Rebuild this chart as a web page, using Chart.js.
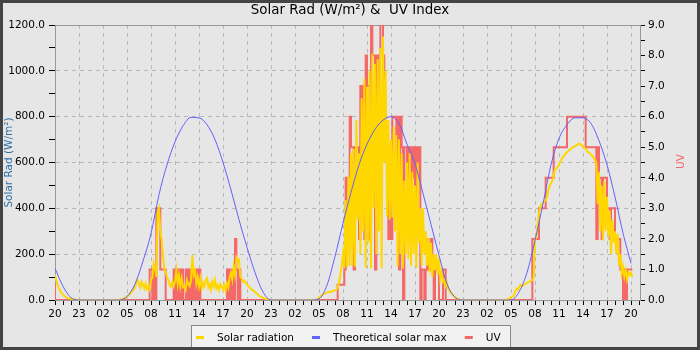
<!DOCTYPE html>
<html>
<head>
<meta charset="utf-8">
<title>Solar Rad &amp; UV Index</title>
<script src="https://cdn.jsdelivr.net/npm/chart.js@4.4.1/dist/chart.umd.min.js"></script>
<style>
  html, body { margin: 0; padding: 0; background: #e6e6e6; }
  #wrap { width: 700px; height: 350px; }
</style>
</head>
<body>
<div id="wrap"><canvas id="chart" width="700" height="350"></canvas></div>
<script>
// x axis: hours since 20:00 on the first day, labels every 3 hours
const hourLabels = ['20', '23', '02', '05', '08', '11', '14', '17',
                    '20', '23', '02', '05', '08', '11', '14', '17',
                    '20', '23', '02', '05', '08', '11', '14', '17', '20'];

// 10 minute samples, one row per hour (clock hour in the comment)
const solarRad = [
  110, 85, 65, 50, 38, 30,        // 20
  24, 18, 14, 10, 8, 6,           // 21
  5, 4, 3, 2, 1, 0,               // 22
  0, 0, 0, 0, 0, 0,               // 23
  0, 0, 0, 0, 0, 0,               // 00
  0, 0, 0, 0, 0, 0,               // 01
  0, 0, 0, 0, 0, 0,               // 02
  0, 0, 0, 0, 0, 0,               // 03
  0, 2, 4, 6, 8, 10,              // 04
  15, 20, 26, 32, 38, 44,         // 05
  58, 75, 87, 70, 55, 80,         // 06
  66, 50, 72, 48, 58, 45,         // 07
  90, 95, 160, 140, 100, 380,     // 08
  400, 300, 262, 190, 140, 120,   // 09
  100, 87, 65, 58, 80, 60,        // 10
  80, 130, 70, 109, 60, 95,       // 11
  55, 60, 44, 87, 70, 60,         // 12
  85, 196, 110, 130, 70, 100,     // 13
  60, 95, 50, 75, 60, 85,         // 14
  95, 55, 70, 45, 80, 60,         // 15
  87, 50, 65, 44, 70, 58,         // 16
  45, 65, 40, 73, 55, 100,        // 17
  120, 90, 145, 110, 185, 170,    // 18
  175, 100, 95, 80, 85, 73,       // 19
  70, 60, 55, 48, 44, 40,         // 20
  36, 30, 25, 20, 15, 12,         // 21
  10, 7, 5, 3, 2, 0,              // 22
  0, 0, 0, 0, 0, 0,               // 23
  0, 0, 0, 0, 0, 0,               // 00
  0, 0, 0, 0, 0, 0,               // 01
  0, 0, 0, 0, 0, 0,               // 02
  0, 0, 0, 0, 0, 0,               // 03
  0, 0, 0, 0, 2, 5,               // 04
  10, 15, 20, 25, 28, 30,         // 05
  32, 34, 35, 36, 38, 40,         // 06
  42, 45, 55, 73, 110, 150,       // 07
  200, 140, 436, 145, 540, 150,   // 08
  640, 150, 660, 145, 785, 350,   // 09
  640, 200, 880, 300, 967, 140,   // 10
  930, 250, 1000, 138, 1075, 400, // 11
  1030, 200, 1050, 300, 1100, 140,// 12
  1150, 600, 1000, 364, 785, 350, // 13
  700, 360, 755, 300, 720, 145,   // 14
  700, 200, 640, 138, 520, 200,   // 15
  600, 180, 640, 150, 560, 200,   // 16
  500, 140, 600, 250, 400, 150,   // 17
  400, 200, 300, 150, 270, 120,   // 18
  250, 100, 200, 130, 200, 110,   // 19
  180, 90, 120, 80, 90, 60,       // 20
  75, 50, 40, 30, 25, 18,         // 21
  12, 8, 5, 3, 1, 0,              // 22
  0, 0, 0, 0, 0, 0,               // 23
  0, 0, 0, 0, 0, 0,               // 00
  0, 0, 0, 0, 0, 0,               // 01
  0, 0, 0, 0, 0, 0,               // 02
  0, 0, 0, 0, 0, 0,               // 03
  0, 0, 0, 2, 5, 8,               // 04
  12, 15, 18, 35, 50, 45,         // 05
  55, 65, 60, 62, 68, 72,         // 06
  75, 78, 80, 84, 87, 100,        // 07
  260, 276, 330, 380, 407, 420,   // 08
  425, 430, 436, 450, 480, 500,   // 09
  510, 520, 540, 570, 575, 580,   // 10
  590, 605, 615, 625, 630, 640,   // 11
  645, 650, 655, 660, 665, 668,   // 12
  670, 675, 678, 684, 680, 675,   // 13
  670, 665, 660, 650, 645, 640,   // 14
  635, 630, 620, 610, 600, 420,   // 15
  560, 300, 500, 260, 520, 300,   // 16
  450, 280, 390, 200, 350, 250,   // 17
  300, 200, 290, 150, 200, 115,   // 18
  145, 100, 130, 90, 120, 110,    // 19
  120, 100                        // 20
];

const uvIndex = [
  0.5, 0, 0, 0, 0, 0,   // 20
  0, 0, 0, 0, 0, 0,     // 21
  0, 0, 0, 0, 0, 0,     // 22
  0, 0, 0, 0, 0, 0,     // 23
  0, 0, 0, 0, 0, 0,     // 00
  0, 0, 0, 0, 0, 0,     // 01
  0, 0, 0, 0, 0, 0,     // 02
  0, 0, 0, 0, 0, 0,     // 03
  0, 0, 0, 0, 0, 0,     // 04
  0, 0, 0, 0, 0, 0,     // 05
  0, 0, 0, 0, 0, 0,     // 06
  0, 0, 0, 0, 0, 0,     // 07
  1, 1, 0, 1, 0, 3,     // 08
  3, 3, 1, 1, 1, 1,     // 09
  0, 0, 0, 0, 0, 0,     // 10
  1, 0, 1, 0, 1, 0,     // 11
  1, 0, 0, 1, 0, 1,     // 12
  0, 1, 0, 1, 0, 1,     // 13
  0, 1, 0, 0, 0, 0,     // 14
  0, 0, 0, 0, 0, 0,     // 15
  0, 0, 0, 0, 0, 0,     // 16
  0, 0, 0, 0, 1, 0,     // 17
  1, 0, 1, 0, 2, 1,     // 18
  0, 1, 0, 0, 0, 0,     // 19
  0, 0, 0, 0, 0, 0,     // 20
  0, 0, 0, 0, 0, 0,     // 21
  0, 0, 0, 0, 0, 0,     // 22
  0, 0, 0, 0, 0, 0,     // 23
  0, 0, 0, 0, 0, 0,     // 00
  0, 0, 0, 0, 0, 0,     // 01
  0, 0, 0, 0, 0, 0,     // 02
  0, 0, 0, 0, 0, 0,     // 03
  0, 0, 0, 0, 0, 0,     // 04
  0, 0, 0, 0, 0, 0,     // 05
  0, 0, 0, 0, 0, 0,     // 06
  0, 0, 0, 0.5, 0.5, 0.5, // 07
  0.5, 0.5, 1, 4, 2, 4, // 08
  6, 5, 5, 1, 5, 5,     // 09
  5, 2, 7, 3, 7, 2,     // 10
  8, 7, 7, 2, 9, 8,     // 11
  8, 1, 8, 3, 8, 9,     // 12
  9, 8, 6, 5, 5, 2,     // 13
  5, 2, 6, 6, 6, 3,     // 14
  6, 1, 6, 5, 0, 5,     // 15
  5, 4, 5, 2, 5, 4,     // 16
  5, 2, 5, 4, 5, 0,     // 17
  1, 1, 0, 1, 2, 1,     // 18
  1, 2, 1, 0, 1, 1,     // 19
  1, 0, 0, 0, 1, 1,     // 20
  0, 0, 0, 0, 0, 0,     // 21
  0, 0, 0, 0, 0, 0,     // 22
  0, 0, 0, 0, 0, 0,     // 23
  0, 0, 0, 0, 0, 0,     // 00
  0, 0, 0, 0, 0, 0,     // 01
  0, 0, 0, 0, 0, 0,     // 02
  0, 0, 0, 0, 0, 0,     // 03
  0, 0, 0, 0, 0, 0,     // 04
  0, 0, 0, 0, 0, 0,     // 05
  0, 0, 0, 0, 0, 0,     // 06
  0, 0, 0, 0, 0, 2,     // 07
  2, 2, 2, 2, 3, 3,     // 08
  3, 3, 3, 4, 4, 4,     // 09
  4, 4, 4, 5, 5, 5,     // 10
  5, 5, 5, 5, 5, 5,     // 11
  5, 6, 6, 6, 6, 6,     // 12
  6, 6, 6, 6, 6, 6,     // 13
  6, 6, 6, 5, 5, 5,     // 14
  5, 5, 5, 5, 5, 2,     // 15
  5, 4, 4, 2, 4, 4,     // 16
  4, 3, 3, 2, 3, 3,     // 17
  3, 2, 2, 2, 2, 1,     // 18
  1, 0, 1, 0, 1, 1,     // 19
  1, 1                  // 20
];

// theoretical max, one value per hour from 20:00
const solarMax = [
  138, 60, 10, 0, 0, 0, 0, 0, 0,
  15, 70, 170, 290, 460, 590, 690, 760, 797, 795, 765, 700, 600, 480, 350, 230, 120, 35, 0,
  0, 0, 0, 0, 0, 5, 65, 190, 335, 470, 590, 680, 745, 785, 800, 770, 680, 595, 465, 330, 195, 70, 12, 0,
  0, 0, 0, 0, 0, 0, 35, 120, 260, 420, 590, 705, 765, 795, 795, 770, 695, 590, 450, 292, 160
];

const SAMPLES_PER_HOUR = 6;
const X_MAX = 73.125;

const YELLOW = '#ffd700';
const BLUE = '#6262ff';
const RED = '#f46868';
const GRID = '#b9b9b9';
const FONT = 'DejaVu Sans';

Chart.defaults.font.family = FONT;
Chart.defaults.color = '#000';

const frameAndLegend = {
  id: 'frameAndLegend',
  beforeDraw(chart) {
    const ctx = chart.ctx;
    ctx.save();
    ctx.fillStyle = '#e6e6e6';
    ctx.fillRect(0, 0, chart.width, chart.height);
    ctx.restore();
  },
  beforeDatasetsDraw(chart) {
    const {ctx, chartArea: a} = chart;
    ctx.save();
    ctx.strokeStyle = '#999';
    ctx.lineWidth = 1;
    ctx.strokeRect(Math.round(a.left) + 0.5, Math.round(a.top) + 0.5,
                   Math.round(a.right - a.left), Math.round(a.bottom - a.top));
    ctx.restore();
  },
  afterDraw(chart) {
    const {ctx, chartArea: a} = chart;
    ctx.save();

    // right axis title, read bottom to top like the left one
    ctx.font = '10.5px "' + FONT + '"';
    ctx.fillStyle = RED;
    ctx.textAlign = 'center';
    ctx.textBaseline = 'middle';
    ctx.translate(681, (a.top + a.bottom) / 2 - 1);
    ctx.rotate(-Math.PI / 2);
    ctx.fillText('UV', 0, 0);
    ctx.setTransform(1, 0, 0, 1, 0, 0);

    // legend box
    const items = [0, 1, 2].map(i => chart.data.datasets[i]);
    ctx.textAlign = 'left';
    ctx.textBaseline = 'alphabetic';
    const marker = 8, gap = 13, spacing = 18;
    const widths = items.map(d => ctx.measureText(d.label).width);
    const content = widths.reduce((s, w) => s + marker + gap + w, 0) + spacing * (items.length - 1);
    const boxW = Math.round(content + 14);
    const boxL = Math.round(350.5 - boxW / 2);
    ctx.fillStyle = '#f2f2f2';
    ctx.fillRect(boxL, 325, boxW, 23);
    ctx.strokeStyle = '#8a8a8a';
    ctx.lineWidth = 1;
    ctx.strokeRect(boxL + 0.5, 325.5, boxW, 23);
    let x = boxL + 5;
    items.forEach((d, i) => {
      ctx.fillStyle = d.borderColor;
      ctx.fillRect(x, 336, marker, 3);
      ctx.fillStyle = '#000';
      ctx.fillText(d.label, x + marker + gap, 341);
      x += marker + gap + widths[i] + spacing;
    });

    // outer frame
    ctx.strokeStyle = '#444';
    ctx.lineWidth = 3;
    ctx.strokeRect(1.5, 1.5, chart.width - 3, chart.height - 3);
    ctx.restore();
  }
};

const ctx = document.getElementById('chart');

new Chart(ctx, {
  type: 'line',
  data: {
    datasets: [
      {
        label: 'Solar radiation',
        data: solarRad.map((v, i) => ({x: i / SAMPLES_PER_HOUR, y: v})),
        borderColor: YELLOW,
        backgroundColor: YELLOW,
        borderWidth: 2,
        pointRadius: 0,
        yAxisID: 'y',
        order: 2
      },
      {
        label: 'Theoretical solar max',
        data: solarMax.map((v, i) => ({x: i, y: v})),
        borderColor: BLUE,
        backgroundColor: BLUE,
        borderWidth: 1,
        pointRadius: 0,
        cubicInterpolationMode: 'monotone',
        yAxisID: 'y',
        order: 1
      },
      {
        label: 'UV',
        data: uvIndex.map((v, i) => ({x: i / SAMPLES_PER_HOUR, y: v})),
        borderColor: RED,
        backgroundColor: RED,
        borderWidth: 2,
        pointRadius: 0,
        stepped: 'after',
        yAxisID: 'y1',
        order: 3
      }
    ]
  },
  options: {
    responsive: false,
    animation: false,
    devicePixelRatio: 1,
    layout: { padding: { left: 0, right: 0, top: 0, bottom: 28 } },
    plugins: {
      legend: { display: false },
      tooltip: { enabled: false },
      title: {
        display: true,
        text: 'Solar Rad (W/m²) &  UV Index',
        color: '#000',
        font: { size: 13.4, weight: 'normal', lineHeight: '16px' },
        padding: { top: 3, bottom: 6 }
      }
    },
    scales: {
      x: {
        type: 'linear',
        min: 0,
        max: X_MAX,
        afterFit: s => { s.height = 22; },
        afterBuildTicks: s => { s.ticks = Array.from({length: 74}, (_, i) => ({value: i})); },
        ticks: {
          autoSkip: false,
          maxRotation: 0,
          minRotation: 0,
          padding: 3,
          font: { size: 10.5 },
          callback: v => (v % 3 === 0 ? hourLabels[v / 3] : '')
        },
        grid: {
          color: c => (c.tick && c.tick.value % 3 === 0 ? GRID : 'rgba(0,0,0,0)'),
          tickColor: '#000',
          tickLength: 5,
          tickBorderDash: []
        },
        border: { color: '#999', dash: [4, 4] }
      },
      y: {
        position: 'left',
        min: 0,
        max: 1200,
        afterFit: s => { s.width = 55; },
        afterBuildTicks: s => { s.ticks = Array.from({length: 13}, (_, i) => ({value: i * 100})); },
        ticks: {
          autoSkip: false,
          padding: 4,
          font: { size: 10.5 },
          callback: v => (v % 200 === 0 ? v.toFixed(1) : '')
        },
        grid: {
          color: c => (c.tick && c.tick.value % 200 === 0 && c.tick.value > 0 && c.tick.value < 1200 ? GRID : 'rgba(0,0,0,0)'),
          tickColor: '#000',
          tickLength: 6,
          tickBorderDash: []
        },
        border: { color: '#999', dash: [4, 4] },
        title: {
          display: true,
          text: 'Solar Rad (W/m²)',
          color: '#2b6ea8',
          font: { size: 10.5 },
          padding: { top: 2.5, bottom: 0 }
        }
      },
      y1: {
        position: 'right',
        min: 0,
        max: 9,
        afterFit: s => { s.width = 60; },
        afterBuildTicks: s => { s.ticks = Array.from({length: 19}, (_, i) => ({value: i * 0.5})); },
        ticks: {
          autoSkip: false,
          padding: 3,
          font: { size: 10.5 },
          callback: v => (v % 1 === 0 ? v.toFixed(1) : '')
        },
        grid: {
          drawOnChartArea: false,
          tickColor: '#000',
          tickLength: 5
        },
        border: { color: '#999' }
      }
    }
  },
  plugins: [frameAndLegend]
});
</script>
</body>
</html>
